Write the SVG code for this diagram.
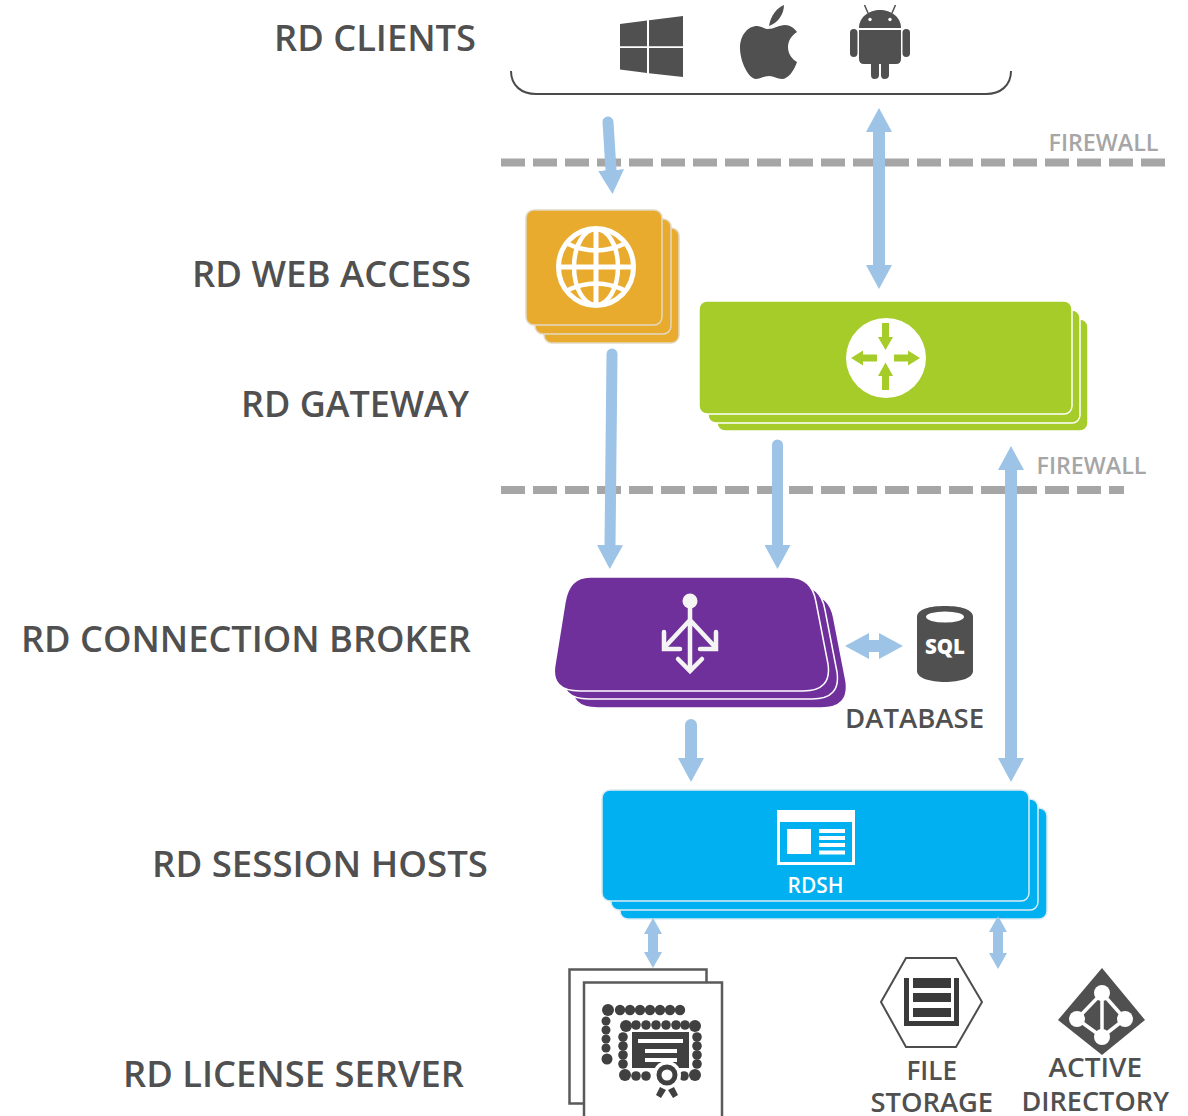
<svg xmlns="http://www.w3.org/2000/svg" width="1188" height="1116" viewBox="0 0 1188 1116">
<style>
text{font-family:"Open Sans","Noto Sans","Liberation Sans",sans-serif}
.lbl{font-size:36px;font-weight:600;fill:#505050}
.sub{font-size:27px;font-weight:600;fill:#505050}
.fw{font-size:24px;font-weight:600;fill:#a6a6a6}
.wall{stroke:#a6a6a6;stroke-width:8;stroke-dasharray:24 8;fill:none}
.arrow{stroke:#9dc3e6;fill:none;stroke-linecap:round}
.butt{stroke-linecap:butt}
.gold{fill:#e9ab2e;stroke:#e2d9c4;stroke-width:1.5}
.green{fill:#a6cc2a;stroke:#fff;stroke-width:1.5}
.purple{fill:#70309c;stroke:#fff;stroke-width:1.5}
.blue{fill:#00b0f0;stroke:#dcecf4;stroke-width:1.5}
.dark{fill:#505050}
.dots circle{fill:#404040}
</style>
<defs>
<marker id="hb" markerUnits="userSpaceOnUse" markerWidth="24" markerHeight="26" refX="0" refY="13" orient="auto-start-reverse" viewBox="0 0 24 26"><path d="M0,0L24,13L0,26Z" fill="#9dc3e6"/></marker>
<marker id="hs" markerUnits="userSpaceOnUse" markerWidth="16" markerHeight="18" refX="0" refY="9" orient="auto-start-reverse" viewBox="0 0 16 18"><path d="M0,0L16,9L0,18Z" fill="#9dc3e6"/></marker>
<path id="pcard" d="M590,577H788Q812,577 816,602L828,664Q832,691 803,691H580Q550,691 555,664L565,602Q569,577 590,577Z"/>
</defs>

<g id="firewalls">
<path class="wall" d="M501,162.500H1165"/>
<path class="wall" d="M501,490H1124"/>
<text class="fw" x="1048.500" y="151" textLength="110" lengthAdjust="spacingAndGlyphs">FIREWALL</text>
<text class="fw" x="1036.500" y="474" textLength="110" lengthAdjust="spacingAndGlyphs">FIREWALL</text>
</g>

<g id="labels">
<text class="lbl" x="274" y="51" textLength="202" lengthAdjust="spacingAndGlyphs">RD CLIENTS</text>
<text class="lbl" x="192" y="287" textLength="279" lengthAdjust="spacingAndGlyphs">RD WEB ACCESS</text>
<text class="lbl" x="241" y="417" textLength="228" lengthAdjust="spacingAndGlyphs">RD GATEWAY</text>
<text class="lbl" x="21" y="652" textLength="450" lengthAdjust="spacingAndGlyphs">RD CONNECTION BROKER</text>
<text class="lbl" x="152" y="877" textLength="336" lengthAdjust="spacingAndGlyphs">RD SESSION HOSTS</text>
<text class="lbl" x="123" y="1087" textLength="341" lengthAdjust="spacingAndGlyphs">RD LICENSE SERVER</text>
</g>

<g id="rd-clients">
<path d="M620,24L647,20.500V46.300H620ZM649,20.200L683,16V46.300H649ZM620,48H647V73L620,69.500ZM649,48H683V77L649,73.300Z" class="dark"/>
<path class="dark" d="M769,26C771,15 777,8 784,5C784,14 778,23 769,26ZM768,29C774,29 779,25 785,25C790,25 794,28 797,32C791,36 788,41 788,47C788,54 792,59 797,62C794,71 788,79 782,79C777,79 774,76 769,76C764,76 760,79 756,79C749,79 740,62 740,48C740,35 748,26 757,26C761,26 765,29 768,29Z"/>
<g class="dark">
<path d="M859,28C859,17 869,10 880,10C891,10 901,17 901,28Z"/>
<path d="M859,30H901V59Q901,64 896,64H889V75Q889,79 884.500,79Q881,79 881,75V64H879V75Q879,79 874.500,79Q871,79 871,75V64H864Q859,64 859,59Z"/>
<rect x="850" y="29" width="7.500" height="28" rx="3.700"/>
<rect x="902.500" y="29" width="7.500" height="28" rx="3.700"/>
<path d="M868,13L864.500,5M892,13L895.500,5" stroke="#505050" stroke-width="1.500"/>
<circle cx="870" cy="19.500" r="1.700" fill="#fff"/>
<circle cx="890" cy="19.500" r="1.700" fill="#fff"/>
</g>
<path d="M511,71C511,86 522,94 536,94H986C1000,94 1011,86 1011,71" fill="none" stroke="#4a4a4a" stroke-width="2"/>
</g>

<g id="rd-web-access">
<rect class="gold" x="544" y="228" width="135" height="115" rx="8"/>
<rect class="gold" x="535" y="219" width="136" height="115" rx="8"/>
<rect class="gold" x="526" y="210" width="136" height="115" rx="8"/>
<g fill="none" stroke="#fff">
<ellipse cx="596" cy="267" rx="37.500" ry="38.500" stroke-width="5"/>
<ellipse cx="596" cy="267" rx="22" ry="38" stroke-width="4.500"/>
<path d="M596,229V305M558,267H634" stroke-width="5"/>
<path d="M566,243Q596,258 626,243M566,291Q596,276 626,291" stroke-width="4.500"/>
</g>
</g>

<g id="rd-gateway">
<rect class="green" x="717" y="319" width="371" height="112" rx="8"/>
<rect class="green" x="708" y="310" width="372" height="113" rx="8"/>
<rect class="green" x="699" y="301" width="373" height="113" rx="8"/>
<circle cx="886" cy="358" r="40" fill="#fff"/>
<path fill="#a6cc2a" d="M882,323H889V337H893L885.500,350L878,337H882ZM882,390H889V376H893L885.500,362.500L878,376H882ZM877,354.500V361.500H863V365.500L851,358L863,350.500V354.500ZM894,354.500V361.500H908V365.500L920,358L908,350.500V354.500Z"/>
</g>

<g id="rd-connection-broker">
<use href="#pcard" class="purple" x="18" y="17"/>
<use href="#pcard" class="purple" x="9" y="8"/>
<use href="#pcard" class="purple"/>
<g stroke="#f4f4f4" stroke-width="4.500" fill="none">
<path d="M690,601V670M690,620L664,648M690,620L716,648"/>
<path d="M664,632V649H680M716,632V649H700M678,659L690,671L702,659" stroke-linecap="round"/>
</g>
<circle cx="690" cy="601" r="7.500" fill="#f4f4f4"/>
</g>

<g id="database">
<path class="dark" d="M917,617C917,609 930,606 945,606C960,606 973,609 973,617V671C973,678 960,682 945,682C930,682 917,678 917,671Z"/>
<ellipse cx="945" cy="617" rx="19" ry="5.500" fill="#fff"/>
<text x="945" y="654" text-anchor="middle" font-size="21" font-weight="800" fill="#fff" textLength="40" lengthAdjust="spacingAndGlyphs">SQL</text>
<text class="sub" x="845" y="728" textLength="139" lengthAdjust="spacingAndGlyphs">DATABASE</text>
</g>

<g id="rd-session-hosts">
<rect class="blue" x="620" y="808" width="427" height="111" rx="8"/>
<rect class="blue" x="611" y="799" width="427" height="111" rx="8"/>
<rect class="blue" x="602" y="790" width="427" height="111" rx="8"/>
<path fill="#fff" fill-rule="evenodd" d="M777,810H855V865H777ZM780,822V862H852V822Z"/>
<path fill="#fff" d="M787,829H811V854H787ZM819,829H845V833H819ZM819,836H845V840H819ZM819,843H845V847H819ZM819,850.500H845V854.500H819Z"/>
<text x="787.500" y="893" font-size="21" font-weight="600" fill="#fff" textLength="56" lengthAdjust="spacingAndGlyphs">RDSH</text>
</g>

<g id="rd-license-server">
<rect x="569.500" y="969.500" width="137" height="134" fill="#fff" stroke="#5a5a5a" stroke-width="2.500"/>
<rect x="584" y="982.500" width="138" height="140" fill="#fff" stroke="#5a5a5a" stroke-width="2.500"/>
<g class="dots">
<circle cx="608" cy="1010" r="6"/><circle cx="620" cy="1010" r="5.200"/><circle cx="630" cy="1010" r="5.200"/><circle cx="640" cy="1010" r="5.200"/><circle cx="650" cy="1010" r="5.200"/><circle cx="660" cy="1010" r="5.200"/><circle cx="670" cy="1010" r="5.200"/><circle cx="680" cy="1010" r="5.200"/>
<circle cx="606" cy="1021" r="4.500"/><circle cx="606" cy="1030" r="4.500"/><circle cx="606" cy="1039" r="4.500"/><circle cx="606" cy="1048" r="4.500"/><circle cx="607" cy="1059" r="5.500"/>
<circle cx="626" cy="1026" r="6"/><circle cx="636" cy="1025" r="4.800"/><circle cx="646" cy="1025" r="4.800"/><circle cx="656" cy="1025" r="4.800"/><circle cx="666" cy="1025" r="4.800"/><circle cx="676" cy="1025" r="4.800"/><circle cx="685" cy="1025" r="4.800"/><circle cx="695" cy="1026" r="6"/>
<circle cx="623" cy="1037" r="4.800"/><circle cx="623" cy="1046" r="4.800"/><circle cx="623" cy="1055" r="4.800"/><circle cx="623" cy="1064" r="4.800"/>
<circle cx="697" cy="1037" r="4.800"/><circle cx="697" cy="1046" r="4.800"/><circle cx="697" cy="1055" r="4.800"/><circle cx="697" cy="1064" r="4.800"/>
<circle cx="625" cy="1075" r="6"/><circle cx="636" cy="1076" r="4.800"/><circle cx="646" cy="1076" r="4.800"/><circle cx="684" cy="1076" r="4.800"/><circle cx="695" cy="1075" r="6"/>
</g>
<path fill="#404040" fill-rule="evenodd" d="M632,1032H689V1068H632ZM638,1039V1043H683V1039ZM645,1049V1053H677V1049ZM645,1058V1062H677V1058Z"/>
<circle cx="667" cy="1075" r="14" fill="#fff"/>
<circle cx="667" cy="1075" r="8" fill="none" stroke="#404040" stroke-width="5"/>
<path fill="#404040" d="M660,1087L666,1090L661,1098L656,1095ZM674,1087L668,1090L673,1098L678,1095Z"/>
</g>

<g id="file-storage">
<path d="M881,1002L906,958H956L982,1002L956,1047H906Z" fill="#fff" stroke="#4d4d4d" stroke-width="2"/>
<path fill="#3a3a3a" d="M904,978H909V1021H954V978H959V1026H904ZM913,978H951V988H913ZM913,993H951V1002H913ZM913,1008H951V1017H913Z"/>
<text class="sub" x="906.500" y="1080" textLength="50.500" lengthAdjust="spacingAndGlyphs">FILE</text>
<text class="sub" x="870.500" y="1112" textLength="122.500" lengthAdjust="spacingAndGlyphs">STORAGE</text>
</g>

<g id="active-directory">
<path class="dark" d="M1102,968L1145,1020L1102,1055L1058,1020Z"/>
<path d="M1102,993L1125,1019L1102,1037L1077,1019ZM1102,993V1037" fill="none" stroke="#fff" stroke-width="3.500"/>
<circle cx="1102" cy="993" r="8" fill="#fff"/><circle cx="1077" cy="1019" r="8" fill="#fff"/><circle cx="1125" cy="1019" r="8" fill="#fff"/><circle cx="1102" cy="1037" r="8" fill="#fff"/>
<text class="sub" x="1048.500" y="1077" textLength="93.500" lengthAdjust="spacingAndGlyphs">ACTIVE</text>
<text class="sub" x="1021.500" y="1111" textLength="147.500" lengthAdjust="spacingAndGlyphs">DIRECTORY</text>
</g>

<g id="connectors">
<path class="arrow" stroke-width="11" d="M608,122L611,170" marker-end="url(#hb)"/>
<path class="arrow butt" stroke-width="12" d="M879,132V265" marker-start="url(#hb)" marker-end="url(#hb)"/>
<path class="arrow" stroke-width="11" d="M612,354L610,545" marker-end="url(#hb)"/>
<path class="arrow" stroke-width="11" d="M777.500,445V545" marker-end="url(#hb)"/>
<path class="arrow butt" stroke-width="12" d="M1011,470V758" marker-start="url(#hb)" marker-end="url(#hb)"/>
<path class="arrow butt" stroke-width="12" d="M869,646H879" marker-start="url(#hb)" marker-end="url(#hb)"/>
<path class="arrow" stroke-width="12" d="M691,725V758" marker-end="url(#hb)"/>
<path class="arrow butt" stroke-width="10" d="M653,934V952" marker-start="url(#hs)" marker-end="url(#hs)"/>
<path class="arrow butt" stroke-width="10" d="M998,932V953" marker-start="url(#hs)" marker-end="url(#hs)"/>
</g>
</svg>
